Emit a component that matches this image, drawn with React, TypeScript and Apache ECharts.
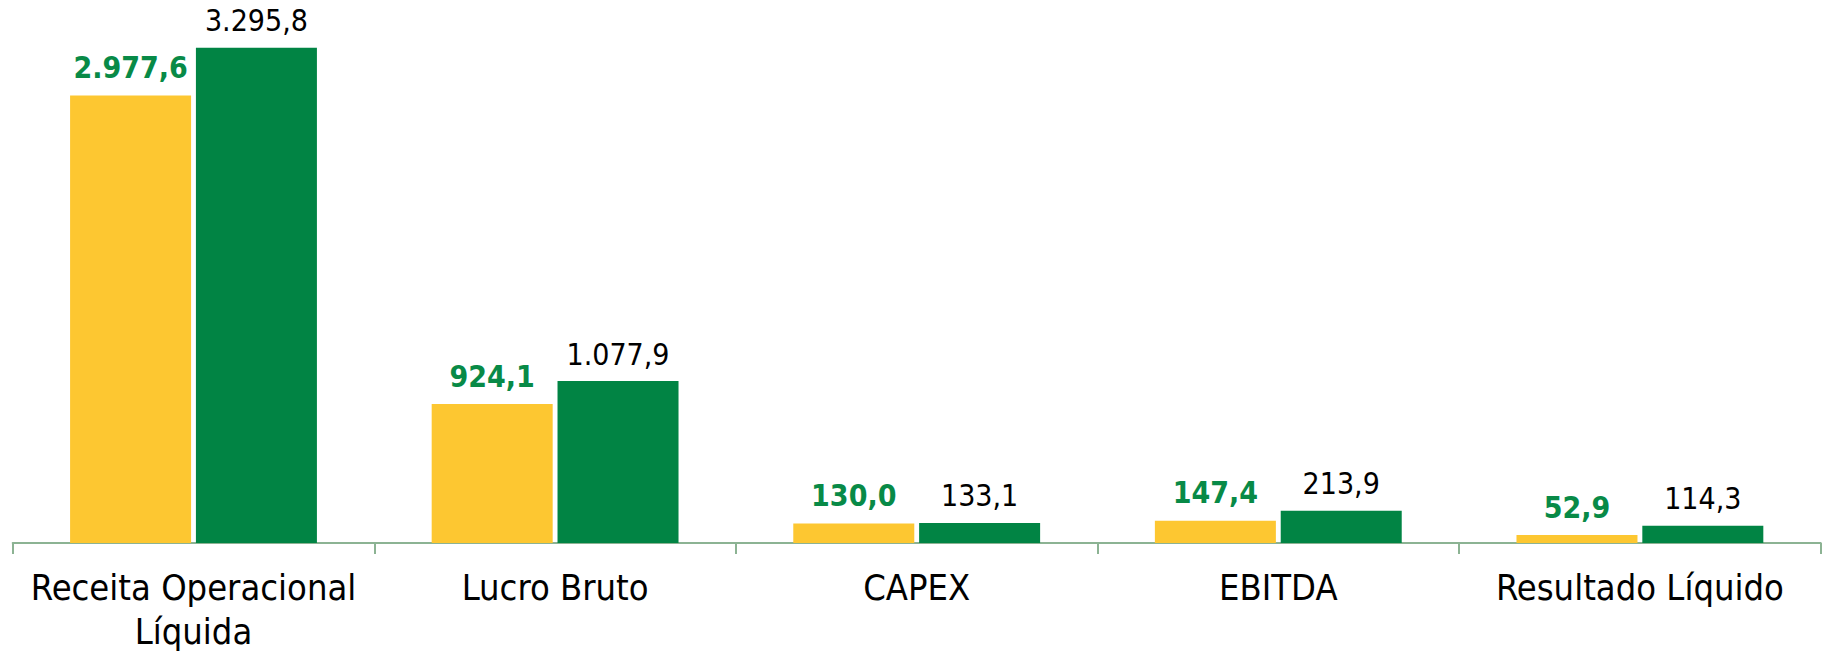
import React, { useEffect, useRef } from "react";
import * as echarts from "echarts";

const categories = [
  "Receita Operacional\nLíquida",
  "Lucro Bruto",
  "CAPEX",
  "EBITDA",
  "Resultado Líquido",
];
const seriesNames = ["Anterior", "Atual"];
const previousValues = [2977.6, 924.1, 130.0, 147.4, 52.9];
const currentValues = [3295.8, 1077.9, 133.1, 213.9, 114.3];

const FONT = "'DejaVu Sans Condensed', 'DejaVu Sans', sans-serif";

function fmt(v: number): string {
  const fixed = v.toFixed(1);
  const [intPart, dec] = fixed.split(".");
  const withDots = intPart.replace(/\B(?=(\d{3})+(?!\d))/g, ".");
  return withDots + "," + dec;
}

export default function App() {
  const ref = useRef<HTMLDivElement>(null);
  useEffect(() => {
    document.body.style.margin = "0";
    if (!ref.current) return;
    const chart = echarts.init(ref.current, null, { renderer: "svg" });
    chart.setOption({
      animation: false,
      grid: { left: 12.7, right: 4.3, top: 17, bottom: 109.5, containLabel: false },
      xAxis: {
        type: "category",
        data: categories,
        axisLine: { lineStyle: { color: "#8CB393", width: 2 } },
        axisTick: { show: true, length: 11, lineStyle: { color: "#8CB393", width: 2 } },
        axisLabel: {
          fontFamily: FONT,
          fontSize: 36,
          lineHeight: 44,
          color: "#000000",
          margin: 22,
          interval: 0,
        },
      },
      yAxis: {
        type: "value",
        min: 0,
        max: 3500,
        show: false,
        splitLine: { show: false },
      },
      series: [
        {
          name: seriesNames[0],
          type: "bar",
          data: previousValues,
          barWidth: 121,
          barGap: "4%",
          itemStyle: { color: "#FDC731" },
          label: {
            show: true,
            position: "top",
            distance: 13,
            fontFamily: FONT,
            fontSize: 30,
            fontWeight: "bold",
            color: "#088A47",
            formatter: (p: any) => fmt(p.value),
          },
        },
        {
          name: seriesNames[1],
          type: "bar",
          data: currentValues,
          barWidth: 121,
          barGap: "4%",
          itemStyle: { color: "#018444" },
          label: {
            show: true,
            position: "top",
            distance: 12,
            fontFamily: FONT,
            fontSize: 30,
            color: "#000000",
            formatter: (p: any) => fmt(p.value),
          },
        },
      ],
    });
    return () => chart.dispose();
  }, []);
  return <div ref={ref} style={{ width: "1825px", height: "653px" }} />;
}
